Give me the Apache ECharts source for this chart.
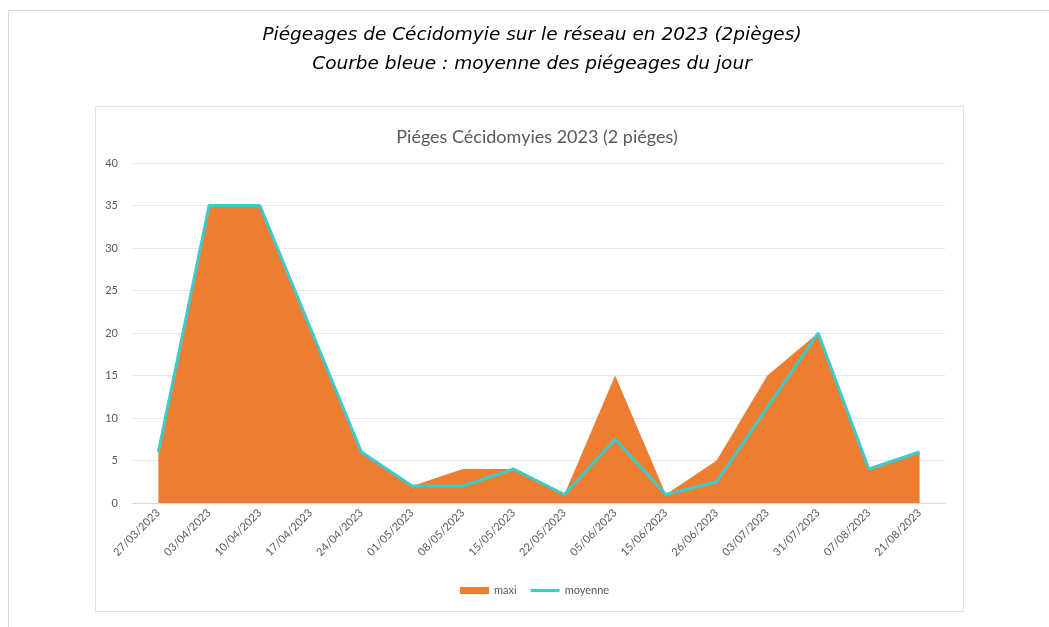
<!DOCTYPE html>
<html>
<head>
<meta charset="utf-8">
<script src="https://cdn.jsdelivr.net/npm/echarts@6/dist/echarts.min.js"></script>
<style>
    html, body { margin: 0; padding: 0; background: #fff; }
    #chart { width: 1049px; height: 627px; }
</style>
</head>
<body>
<div id="chart"></div>
<script>
// dates des relevés
const dates = ['27/03/2023', '03/04/2023', '10/04/2023', '17/04/2023', '24/04/2023', '01/05/2023',
    '08/05/2023', '15/05/2023', '22/05/2023', '05/06/2023', '15/06/2023', '26/06/2023',
    '03/07/2023', '31/07/2023', '07/08/2023', '21/08/2023']
// valeurs
const maxi = [6, 35, 35, 20.5, 6, 2, 4, 4, 1, 15, 1, 5, 15, 20, 4, 6]
const moyenne = [6, 35, 35, 20.5, 6, 2, 2, 4, 1, 7.5, 1, 2.5, 11.25, 20, 4, 6]
const yTicks = [0, 5, 10, 15, 20, 25, 30, 35, 40]

const orange = '#ED7D31'
const teal = '#3CCBCB'
const grey = '#595959'
const font = 'Lato, "Open Sans", sans-serif'
const titleFont = '"DejaVu Sans", "Liberation Sans", sans-serif'

const chart = echarts.init(document.getElementById('chart'))

const option = {
    animation: false,
    graphic: [
        // cadre extérieur
        {
            type: 'rect',
            shape: { x: 8.5, y: 10.5, width: 1100, height: 700 },
            style: { fill: 'none', stroke: '#d9d9d9', lineWidth: 1 },
            silent: true
        },
        // cadre du graphique
        {
            type: 'rect',
            shape: { x: 95.5, y: 106.5, width: 868, height: 505 },
            style: { fill: '#fff', stroke: '#e3e3e3', lineWidth: 1 },
            silent: true,
            z: -1
        }
    ],
    title: [
        {
            text: 'Piégeages de Cécidomyie sur le réseau en 2023 (2pièges)',
            left: 527, top: 21, textAlign: 'center',
            textStyle: { fontFamily: titleFont, fontStyle: 'italic', fontWeight: 'normal', fontSize: 18.5, color: '#000' }
        },
        {
            text: 'Courbe bleue : moyenne des piégeages du jour',
            left: 527, top: 50, textAlign: 'center',
            textStyle: { fontFamily: titleFont, fontStyle: 'italic', fontWeight: 'normal', fontSize: 18.5, color: '#000' }
        },
        {
            text: 'Piéges Cécidomyies 2023 (2 piéges)',
            left: 532, top: 123, textAlign: 'center',
            textStyle: { fontFamily: font, fontWeight: 'normal', fontSize: 18, color: grey }
        }
    ],
    legend: {
        bottom: 26,
        left: 455,
        itemWidth: 29,
        itemHeight: 7,
        itemGap: 14,
        textStyle: { fontFamily: font, fontSize: 11, color: grey },
        data: [
            { name: 'maxi', icon: 'rect' },
            { name: 'moyenne', icon: 'path://M0,0L29,0L29,3L0,3Z' }
        ]
    },
    grid: {
        left: 133,
        right: 104,
        top: 163,
        bottom: 124,
        containLabel: false
    },
    xAxis: {
        type: 'category',
        boundaryGap: true,
        data: dates,
        axisLine: { lineStyle: { color: '#d9d9d9' } },
        axisTick: { show: false },
        axisLabel: {
            rotate: 45,
            interval: 0,
            margin: 8,
            fontFamily: font,
            fontSize: 11,
            color: grey
        }
    },
    yAxis: {
        type: 'value',
        min: yTicks[0],
        max: yTicks[yTicks.length - 1],
        interval: 5,
        axisLine: { show: false },
        axisTick: { show: false },
        splitLine: { lineStyle: { color: '#e6e6e6' } },
        axisLabel: {
            margin: 15,
            fontFamily: font,
            fontSize: 11,
            color: grey
        }
    },
    series: [
        {
            name: 'maxi',
            type: 'line',
            data: maxi,
            symbol: 'none',
            color: orange,
            lineStyle: { width: 0, color: orange },
            areaStyle: { color: orange, opacity: 1 }
        },
        {
            name: 'moyenne',
            type: 'line',
            data: moyenne,
            symbol: 'none',
            color: teal,
            lineStyle: { width: 3, color: teal }
        }
    ]
}

chart.setOption(option)
</script>
</body>
</html>
